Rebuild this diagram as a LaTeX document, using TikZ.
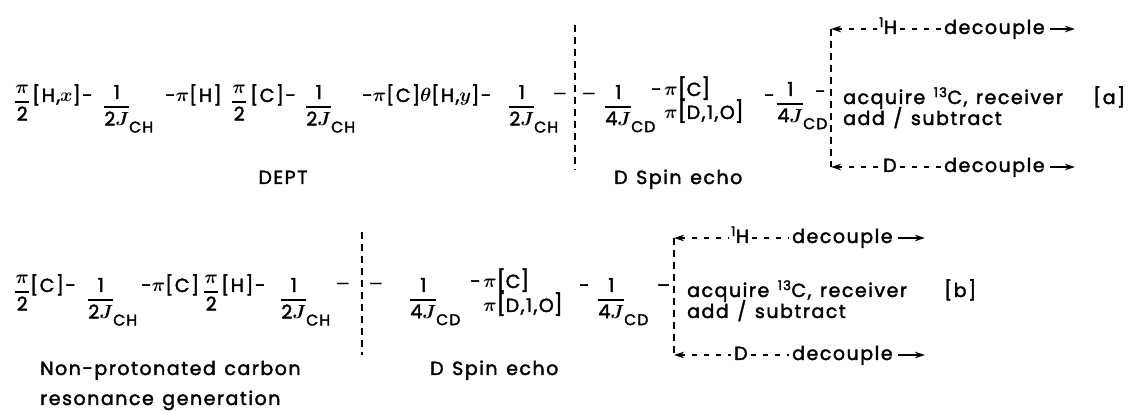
\RequirePackage{fix-cm}
\documentclass[tikz,border=0pt]{standalone}
\usepackage{amsmath}
\usepackage{fontspec}
\setmainfont{Poppins}[LetterSpace=8,WordSpace=1.3,FakeBold=2]
\usetikzlibrary{arrows.meta}
\newcommand{\mfs}{\fontsize{19}{22}\selectfont}
\newcommand{\sfs}{\fontsize{15.5}{17}\selectfont}
\newcommand{\bfsz}{\fontsize{21}{21}\selectfont}
\newcommand{\dfs}{\fontsize{15}{15}\selectfont}
\newcommand{\bpi}{\boldsymbol{\pi}}
\newcommand{\PiTwo}{$\genfrac{}{}{1.3pt}{0}{\bpi}{\mbox{2}}$}
\newcommand{\JFrac}[2]{$\genfrac{}{}{1.3pt}{0}{\mbox{1}}{\mbox{#1}\boldsymbol{J}\rlap{\raisebox{-7pt}{\sfs #2}}}$}
\newcommand{\Lbr}{{\bfsz[}}
\newcommand{\Rbr}{{\bfsz]}}
\tikzset{
  txt/.style={inner sep=0pt, anchor=base west, font=\mfs},
  ctr/.style={inner sep=0pt, anchor=base, font=\mfs},
  vdash/.style={dash pattern=on 7pt off 5pt, line width=1.3pt},
  hdash/.style={dash pattern=on 5pt off 7pt, line width=1.3pt},
  arr/.style={-{Stealth[length=10pt,width=6.5pt]}, line width=1.3pt},
  larr/.style={{Stealth[length=10pt,width=6.5pt]}-, line width=1.3pt},
}
\begin{document}
\begin{tikzpicture}[x=1pt,y=-1pt]
\useasboundingbox (0,0) rectangle (1136,411);
% ---------------- row a ----------------
\node[txt] (a1) at (14,106.75) {\PiTwo};
\node[txt] (a2) at (32,102) {[H,$\boldsymbol{x}$]-};
\node[txt] (a3) at (103,111.75) {\JFrac{2}{CH}};
\node[txt] (a4) at (165,102) {-$\bpi$[H]};
\node[txt] (a5) at (231,106.75) {\PiTwo};
\node[txt] (a6) at (250,102) {[C]-};
\node[txt] (a7) at (305,111.75) {\JFrac{2}{CH}};
\node[txt] (a8) at (362,102) {-$\bpi$[C]$\boldsymbol{\theta}$[H,$\boldsymbol{y}$]-};
\node[txt] (a9) at (508,111.75) {\JFrac{2}{CH}};
\node[txt,font=\dfs] (a10) at (553,99) {—};
\coordinate (va1) at (575,25);
\coordinate (va2) at (575,170);
\draw[vdash] (va1) -- (va2);
\node[txt,font=\dfs] (a11) at (582,99) {—};
\node[txt] (a12) at (604,111.75) {\JFrac{4}{CD}};
\node[txt] (a13) at (651,96) {-};
\node[txt] (a14) at (664,96) {$\bpi$\Lbr C\Rbr};
\node[txt] (a15) at (664,119) {$\bpi$\Lbr D,1,O\Rbr};
\node[txt] (a16) at (764,102) {-};
\node[txt] (a17) at (776,108.75) {\JFrac{4}{CD}};
\node[txt] (a18) at (815,98) {-};
\coordinate (vb1) at (831,29);
\coordinate (vb2) at (831,167);
\draw[vdash] (vb1) -- (vb2);
\node[txt] (a19) at (843,104) {acquire \textsuperscript{13}C, receiver};
\node[txt] (a20) at (843,125) {add / subtract};
\node[txt] (a21) at (1093,104) {[a]};
\node[txt] (Ha) at (879,34) {\textsuperscript{1}H};
\node[txt] (decA) at (944,34) {decouple};
\coordinate (RA) at (1075,29);
\draw[hdash,larr,shorten >=2pt] (vb1) -- (vb1 -| Ha.west);
\draw[hdash,shorten <=3pt,shorten >=3pt] (vb1 -| Ha.east) -- (vb1 -| decA.west);
\draw[arr,shorten <=5pt] (vb1 -| decA.east) -- (RA);
\node[txt] (Da) at (883,172) {D};
\node[txt] (decA2) at (944,172) {decouple};
\coordinate (RA2) at (1075,167);
\draw[hdash,larr,shorten >=3pt] (vb2) -- (vb2 -| Da.west);
\draw[hdash,shorten <=3pt,shorten >=3pt] (vb2 -| Da.east) -- (vb2 -| decA2.west);
\draw[arr,shorten <=5pt] (vb2 -| decA2.east) -- (RA2);
\node[ctr] (dept) at (283,184) {DEPT};
\node[txt] (echoa) at (614,184) {D Spin echo};
% ---------------- row b ----------------
\node[txt] (b1) at (14,296.75) {\PiTwo};
\node[txt] (b2) at (30,292) {[C]-};
\node[txt] (b3) at (87,304.75) {\JFrac{2}{CH}};
\node[txt] (b4) at (141,292) {-$\bpi$[C]};
\node[txt] (b5) at (203,296.75) {\PiTwo};
\node[txt] (b6) at (221,292) {[H]-};
\node[txt] (b7) at (280,304.75) {\JFrac{2}{CH}};
\node[txt,font=\dfs] (b8) at (336,289) {—};
\coordinate (vc1) at (362,232);
\coordinate (vc2) at (362,355);
\draw[vdash] (vc1) -- (vc2);
\node[txt,font=\dfs] (b9) at (369,289) {—};
\node[txt] (b10) at (409,304.75) {\JFrac{4}{CD}};
\node[txt] (b11) at (470,288) {-};
\node[txt] (b12) at (483,288) {$\bpi$\Lbr C\Rbr};
\node[txt] (b13) at (483,312) {$\bpi$\Lbr D,1,O\Rbr};
\node[txt] (b14) at (579,292) {-};
\node[txt] (b15) at (597,304.75) {\JFrac{4}{CD}};
\node[txt] (b16) at (657,292) {–};
\coordinate (vd1) at (674,238);
\coordinate (vd2) at (674,355);
\draw[vdash] (vd1) -- (vd2);
\node[txt] (b17) at (687,297) {acquire \textsuperscript{13}C, receiver};
\node[txt] (b18) at (687,318) {add / subtract};
\node[txt] (b19) at (944,297) {[b]};
\node[txt] (Hb) at (731,243) {\textsuperscript{1}H};
\node[txt] (decB) at (792,243) {decouple};
\coordinate (RB) at (925,238);
\draw[hdash,larr,shorten >=2pt] (vd1) -- (vd1 -| Hb.west);
\draw[hdash,shorten <=3pt,shorten >=3pt] (vd1 -| Hb.east) -- (vd1 -| decB.west);
\draw[arr,shorten <=5pt] (vd1 -| decB.east) -- (RB);
\node[txt] (Db) at (734,360) {D};
\node[txt] (decB2) at (792,360) {decouple};
\coordinate (RB2) at (925,355);
\draw[hdash,larr,shorten >=3pt] (vd2) -- (vd2 -| Db.west);
\draw[hdash,shorten <=3pt,shorten >=3pt] (vd2 -| Db.east) -- (vd2 -| decB2.west);
\draw[arr,shorten <=5pt] (vd2 -| decB2.east) -- (RB2);
\node[txt] (npc) at (40,375) {Non-protonated carbon};
\node[txt] (rg) at (40,405) {resonance generation};
\node[txt] (echob) at (430,375) {D Spin echo};
\end{tikzpicture}
\end{document}
